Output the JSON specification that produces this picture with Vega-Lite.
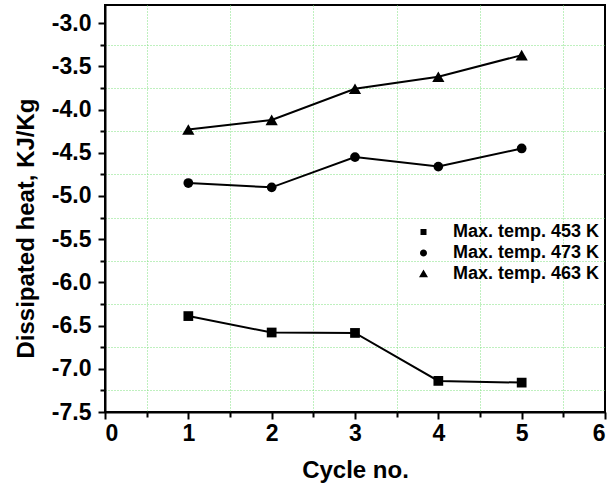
{
  "$schema": "https://vega.github.io/schema/vega-lite/v6.json",
  "width": 500,
  "height": 407,
  "autosize": "none",
  "padding": {"left": 105, "top": 5, "right": 7, "bottom": 71},
  "background": "white",
  "config": {
    "view": {"stroke": "black", "strokeWidth": 2},
    "axis": {
      "domainColor": "black",
      "domainWidth": 2,
      "tickColor": "black",
      "tickWidth": 2,
      "labelOverlap": false,
      "titleFont": "Liberation Sans",
      "titleFontWeight": "bold",
      "titleFontSize": 24,
      "titleColor": "black",
      "grid": true,
      "gridColor": "#7fe07f",
      "gridDash": [1, 2],
      "gridWidth": 1
    }
  },
  "data": {
    "values": [
      {"cycle": 1, "value": -6.39, "series": "Max. temp. 453 K"},
      {"cycle": 2, "value": -6.58, "series": "Max. temp. 453 K"},
      {"cycle": 3, "value": -6.585, "series": "Max. temp. 453 K"},
      {"cycle": 4, "value": -7.14, "series": "Max. temp. 453 K"},
      {"cycle": 5, "value": -7.16, "series": "Max. temp. 453 K"},
      {"cycle": 1, "value": -4.85, "series": "Max. temp. 473 K"},
      {"cycle": 2, "value": -4.90, "series": "Max. temp. 473 K"},
      {"cycle": 3, "value": -4.55, "series": "Max. temp. 473 K"},
      {"cycle": 4, "value": -4.66, "series": "Max. temp. 473 K"},
      {"cycle": 5, "value": -4.45, "series": "Max. temp. 473 K"},
      {"cycle": 1, "value": -4.23, "series": "Max. temp. 463 K"},
      {"cycle": 2, "value": -4.12, "series": "Max. temp. 463 K"},
      {"cycle": 3, "value": -3.76, "series": "Max. temp. 463 K"},
      {"cycle": 4, "value": -3.62, "series": "Max. temp. 463 K"},
      {"cycle": 5, "value": -3.37, "series": "Max. temp. 463 K"}
    ]
  },
  "encoding": {
    "x": {
      "field": "cycle",
      "type": "quantitative",
      "scale": {"domain": [0, 6], "nice": false, "zero": false},
      "axis": {
        "title": "Cycle no.",
        "values": [0, 0.5, 1, 1.5, 2, 2.5, 3, 3.5, 4, 4.5, 5, 5.5, 6],
        "labelExpr": "datum.value % 1 == 0 ? format(datum.value, 'd') : ''",
        "labelFont": "Liberation Sans",
        "labelFontWeight": "bold",
        "labelFontSize": 23,
        "labelColor": "black",
        "tickSize": {"condition": {"test": "datum.value % 1 == 0", "value": 7}, "value": 5},
        "gridOpacity": {"condition": {"test": "datum.value % 1 == 0", "value": 0}, "value": 1},
        "labelPadding": 3,
        "titleY": 65,
        "titleBaseline": "alphabetic",
        "encode": {"labels": {"fontWeight": {"value": "bold"}}}
      }
    },
    "y": {
      "field": "value",
      "type": "quantitative",
      "scale": {"domain": [-7.5, -2.79], "nice": false, "zero": false},
      "axis": {
        "title": "Dissipated heat, KJ/Kg",
        "values": [-7.5, -7.25, -7, -6.75, -6.5, -6.25, -6, -5.75, -5.5, -5.25, -5, -4.75, -4.5, -4.25, -4, -3.75, -3.5, -3.25, -3],
        "labelExpr": "datum.value % 0.5 == 0 ? (datum.value < 0 ? '-' : '') + format(abs(datum.value), '.1f') : ''",
        "labelFont": "Liberation Sans",
        "labelFontWeight": "bold",
        "labelFontSize": 23,
        "labelColor": "black",
        "tickSize": {"condition": {"test": "datum.value % 0.5 == 0", "value": 7}, "value": 5},
        "gridOpacity": {"condition": {"test": "datum.value % 0.5 == 0", "value": 0}, "value": 1},
        "labelPadding": 7,
        "titleX": -72,
        "titleY": 223,
        "titleAngle": -90,
        "titleBaseline": "alphabetic",
        "titleAlign": "center",
        "encode": {"labels": {"fontWeight": {"value": "bold"}}}
      }
    }
  },
  "layer": [
    {
      "mark": {"type": "line", "color": "black", "strokeWidth": 2},
      "encoding": {"detail": {"field": "series"}}
    },
    {
      "transform": [{"filter": "datum.series == 'Max. temp. 453 K'"}],
      "mark": {"type": "point", "shape": "square", "size": 95, "filled": true, "color": "black", "opacity": 1}
    },
    {
      "transform": [{"filter": "datum.series == 'Max. temp. 473 K'"}],
      "mark": {"type": "point", "shape": "circle", "size": 95, "filled": true, "color": "black", "opacity": 1}
    },
    {
      "transform": [{"filter": "datum.series == 'Max. temp. 463 K'"}],
      "mark": {"type": "point", "shape": "triangle-up", "size": 150, "filled": true, "color": "black", "opacity": 1}
    },
    {
      "mark": {"type": "point", "filled": true, "color": "black", "opacity": 0},
      "encoding": {
        "shape": {
          "field": "series",
          "type": "nominal",
          "scale": {
            "domain": ["Max. temp. 453 K", "Max. temp. 473 K", "Max. temp. 463 K"],
            "range": [
              "M-3.58,0H3.58M-0.5,-0.5H0.5V0.5H-0.5Z",
              "M-3.58,0H3.58M-0.58,0A0.58,0.58 0 1,0 0.58,0A0.58,0.58 0 1,0 -0.58,0Z",
              "M-3.58,0H3.58M0,-0.75L0.75,0.55L-0.75,0.55Z"
            ]
          },
          "legend": {
            "title": null,
            "orient": "none",
            "legendX": 309.5,
            "legendY": 218,
            "padding": 0,
            "symbolSize": 144,
            "symbolOpacity": 1,
            "symbolFillColor": "black",
            "symbolStrokeColor": "black",
            "symbolStrokeWidth": 2,
            "symbolOffset": 0,
            "labelOffset": 20.5,
            "rowPadding": 3,
            "labelFont": "Liberation Sans",
            "labelFontWeight": "bold",
            "labelFontSize": 18,
            "labelColor": "black",
            "labelLimit": 300,
            "encode": {
              "symbols": {
                "size": {"value": 144},
                "opacity": {"value": 1},
                "fill": {"value": "black"},
                "stroke": {"value": "black"},
                "strokeWidth": {"value": 2}
              }
            }
          }
        }
      }
    }
  ]
}
